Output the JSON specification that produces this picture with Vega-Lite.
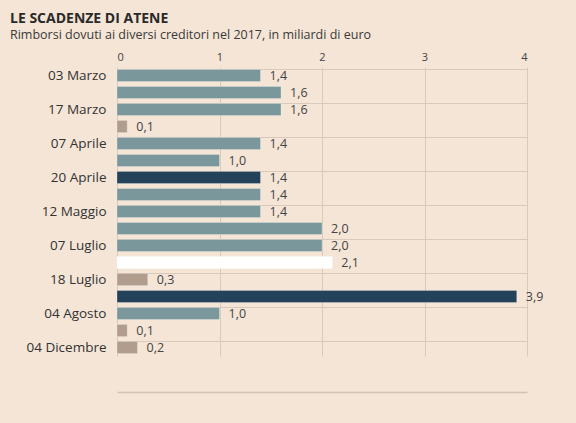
{
  "$schema": "https://vega.github.io/schema/vega-lite/v6.json",
  "autosize": {"type": "none"},
  "width": 410,
  "height": 289,
  "padding": {"left": 117, "top": 67, "right": 49, "bottom": 67},
  "background": "#f4e5d6",
  "config": {
    "locale": {"number": {"decimal": ",", "thousands": ".", "grouping": [3], "currency": ["", " €"]}},
    "view": {"stroke": null},
    "font": "Open Sans"
  },
  "title": {
    "text": "LE SCADENZE DI ATENE",
    "subtitle": "Rimborsi dovuti ai diversi creditori nel 2017, in miliardi di euro",
    "anchor": "start",
    "frame": "group",
    "dx": -107,
    "offset": 10,
    "font": "Open Sans",
    "fontSize": 14,
    "fontWeight": "bold",
    "color": "#2a2a2a",
    "subtitleFont": "Open Sans",
    "subtitleFontSize": 12.5,
    "subtitleColor": "#3a3a3a",
    "subtitlePadding": 3
  },
  "data": {
    "values": [
      {"idx": 0, "valore": 1.4, "gruppo": "a"},
      {"idx": 1, "valore": 1.6, "gruppo": "a"},
      {"idx": 2, "valore": 1.6, "gruppo": "a"},
      {"idx": 3, "valore": 0.1, "gruppo": "c"},
      {"idx": 4, "valore": 1.4, "gruppo": "a"},
      {"idx": 5, "valore": 1.0, "gruppo": "a"},
      {"idx": 6, "valore": 1.4, "gruppo": "b"},
      {"idx": 7, "valore": 1.4, "gruppo": "a"},
      {"idx": 8, "valore": 1.4, "gruppo": "a"},
      {"idx": 9, "valore": 2.0, "gruppo": "a"},
      {"idx": 10, "valore": 2.0, "gruppo": "a"},
      {"idx": 11, "valore": 2.1, "gruppo": "d"},
      {"idx": 12, "valore": 0.3, "gruppo": "c"},
      {"idx": 13, "valore": 3.9, "gruppo": "b"},
      {"idx": 14, "valore": 1.0, "gruppo": "a"},
      {"idx": 15, "valore": 0.1, "gruppo": "c"},
      {"idx": 16, "valore": 0.2, "gruppo": "c"}
    ]
  },
  "encoding": {
    "y": {
      "field": "idx",
      "type": "ordinal",
      "sort": "ascending",
      "scale": {"paddingInner": 0.28, "paddingOuter": 0.14}
    }
  },
  "layer": [
    {
      "mark": {"type": "bar", "stroke": "#ffffff", "strokeOpacity": 0.35, "strokeWidth": 0.8},
      "encoding": {
        "x": {
          "field": "valore",
          "type": "quantitative",
          "scale": {"domain": [0, 4], "nice": false},
          "axis": {
            "orient": "top",
            "values": [0, 1, 2, 3, 4],
            "format": "d",
            "title": null,
            "domain": false,
            "ticks": false,
            "grid": true,
            "gridColor": "#d8c9ba",
            "gridWidth": 1,
            "labelFont": "Open Sans",
            "labelFontSize": 11,
            "labelColor": "#444444",
            "labelPadding": 5
          }
        },
        "y": {
          "field": "idx",
          "type": "ordinal",
          "axis": {
            "orient": "left",
            "title": null,
            "values": [0, 2, 4, 6, 8, 10, 12, 14, 16],
            "labelExpr": "['03 Marzo','','17 Marzo','','07 Aprile','','20 Aprile','','12 Maggio','','07 Luglio','','18 Luglio','','04 Agosto','','04 Dicembre'][datum.value]",
            "domain": false,
            "ticks": false,
            "grid": false,
            "labelFont": "Open Sans",
            "labelFontSize": 13.5,
            "labelColor": "#333333",
            "labelPadding": 11
          }
        },
        "color": {
          "field": "gruppo",
          "type": "nominal",
          "scale": {"domain": ["a", "b", "c", "d"], "range": ["#7a979c", "#24425a", "#b09d8e", "#ffffff"]},
          "legend": null
        }
      }
    },
    {
      "mark": {"type": "text", "align": "left", "baseline": "middle", "dx": 9, "fontSize": 12.5, "font": "Open Sans", "color": "#444444"},
      "encoding": {
        "x": {
          "field": "valore",
          "type": "quantitative",
          "axis": {
            "orient": "bottom",
            "title": null,
            "offset": 36,
            "labels": false,
            "ticks": false,
            "grid": false,
            "domain": true,
            "domainColor": "#d3c3b3",
            "domainWidth": 1.5
          }
        },
        "y": {
          "field": "idx",
          "type": "ordinal",
          "axis": {
            "orient": "right",
            "title": null,
            "values": [0, 2, 4, 6, 8, 10, 12, 14, 16],
            "bandPosition": 0,
            "labels": false,
            "ticks": false,
            "domain": false,
            "grid": true,
            "gridColor": "#d8c9ba",
            "gridWidth": 1
          }
        },
        "text": {"field": "valore", "type": "quantitative", "format": ".1f"}
      }
    }
  ],
  "resolve": {"axis": {"y": "independent", "x": "independent"}}
}
